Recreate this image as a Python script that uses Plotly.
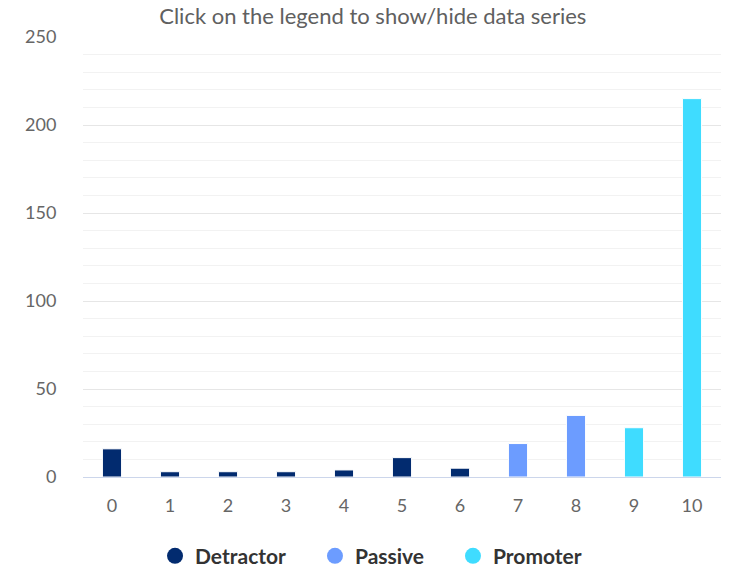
import plotly.graph_objects as go

categories = ["0", "1", "2", "3", "4", "5", "6", "7", "8", "9", "10"]
detractor_x = ["0", "1", "2", "3", "4", "5", "6"]
detractor_y = [16, 3, 3, 3, 4, 11, 5]
passive_x = ["7", "8"]
passive_y = [19, 35]
promoter_x = ["9", "10"]
promoter_y = [28, 215]

series = [
    ("Detractor", detractor_x, detractor_y, "#022b6f", "legend", 0.1129),
    ("Passive", passive_x, passive_y, "#6c9cff", "legend2", 0.3636),
    ("Promoter", promoter_x, promoter_y, "#3fdcff", "legend3", 0.5799),
]

FONT = "Lato"
fig = go.Figure()
legend_style = dict(orientation="h", xanchor="left", y=-0.18, yanchor="middle",
                    font=dict(family=FONT, size=21, color="#333333", weight="bold"),
                    itemsizing="trace", itemwidth=30, bgcolor="rgba(0,0,0,0)")
legends = {}
for name, xs, ys, col, lg, lx in series:
    fig.add_trace(go.Bar(
        x=xs, y=ys, name=name, legendgroup=name, showlegend=False,
        width=0.33, marker=dict(color=col, line=dict(color="white", width=1)),
    ))
    fig.add_trace(go.Scatter(
        x=[None], y=[None], name=name, legendgroup=name, mode="markers",
        legend=lg, marker=dict(symbol="circle", size=20, color=col),
    ))
    legends[lg] = dict(legend_style, x=lx)

fig.update_layout(
    width=731, height=568,
    margin=dict(l=83, r=10, t=37, b=91, autoexpand=False),
    paper_bgcolor="white", plot_bgcolor="white",
    barmode="overlay",
    font=dict(family=FONT, color="#666666", size=18),
    title=dict(text="Click on the legend to show/hide data series",
               x=0.510, xanchor="center", y=0.972, yanchor="middle",
               font=dict(family=FONT, size=22, color="#606060")),
    showlegend=True,
    **legends,
    xaxis=dict(categoryorder="array", categoryarray=categories,
               type="category", range=[-0.5, 10.5],
               showline=True, linecolor="#ccd6eb", linewidth=1,
               showgrid=False, zeroline=False,
               ticks="outside", ticklen=12, tickcolor="rgba(0,0,0,0)",
               tickfont=dict(size=18, color="#666666")),
    yaxis=dict(range=[0, 250], dtick=50, tick0=0,
               showgrid=True, gridcolor="#e6e6e6", gridwidth=1,
               zeroline=False, showline=False,
               ticks="outside", ticklen=22, tickcolor="rgba(0,0,0,0)",
               tickfont=dict(size=18, color="#666666"),
               minor=dict(dtick=10, showgrid=True, gridcolor="#f2f2f2", gridwidth=1)),
)

fig.write_html("out.html", config={"displayModeBar": False},
               post_script="document.body.style.margin='0';")
